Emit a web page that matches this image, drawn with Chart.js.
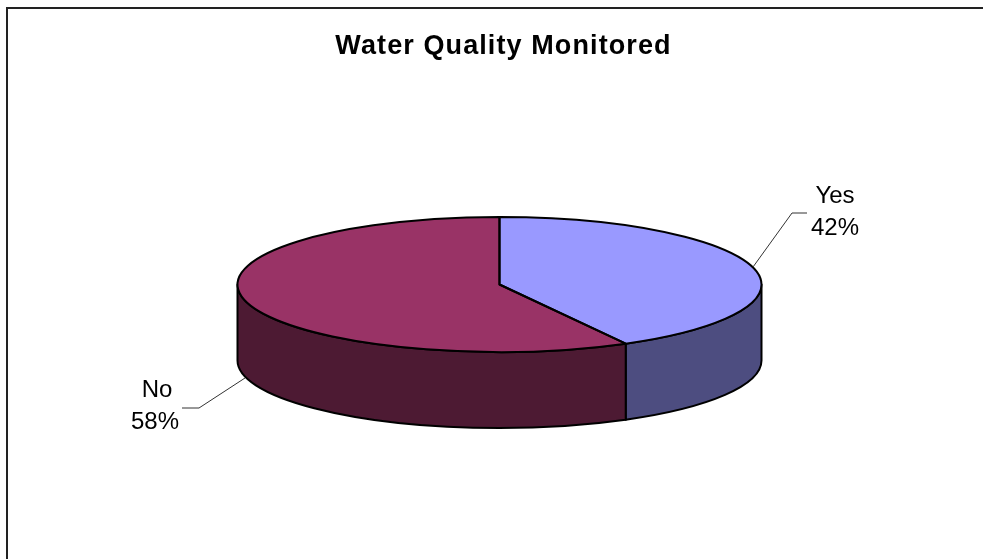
<!DOCTYPE html>
<html><head><meta charset="utf-8">
<style>html,body{margin:0;padding:0;background:#fff}canvas{display:block}</style>
<script src="https://cdn.jsdelivr.net/npm/chart.js@4"></script>
</head><body>
<div style="width:983px;height:559px"><canvas id="c" width="983" height="559"></canvas></div>
<script>
const categories = ['Yes', 'No'];
const values = [42, 58];
const topColors = ['#9999FF', '#993366'];
const sideColors = ['#4D4D80', '#4D1A33'];
const titleText = 'Water Quality Monitored';

const CX = 499.5, CY = 284.5, R = 262, SQUASH = 67.5 / 262, DEPTH = 76;
const LABELS = [
  {lines: ['Yes', '42%'], x: [835, 835], y: [196, 228], leader: [[753, 267], [792, 213], [807, 213]]},
  {lines: ['No', '58%'], x: [157, 155], y: [390, 422], leader: [[245, 378], [199, 408], [182, 408]]}
];

function applySquash(ctx, arc) {
  ctx.translate(CX, CY);
  ctx.scale(1, SQUASH);
  ctx.translate(-arc.x, -arc.y);
}
const pie3d = {
  id: 'pie3d',
  beforeDraw(chart) {
    const c = chart.ctx;
    c.save();
    c.fillStyle = '#fff';
    c.fillRect(0, 0, chart.width, chart.height);
    c.strokeStyle = '#222';
    c.lineWidth = 2;
    c.strokeRect(7, 8, 1100, 700);
    c.restore();
    c.letterSpacing = '1.1px';
  },
  beforeDatasetsDraw(chart) {
    const c = chart.ctx, arcs = chart.getDatasetMeta(0).data;
    c.letterSpacing = '0px';
    arcs.forEach((a, i) => {
      const s = Math.max(a.startAngle, 0), e = Math.min(a.endAngle, Math.PI);
      if (e <= s) return;
      c.beginPath();
      c.ellipse(CX, CY, a.outerRadius, a.outerRadius * SQUASH, 0, s, e);
      c.ellipse(CX, CY + DEPTH, a.outerRadius, a.outerRadius * SQUASH, 0, e, s, true);
      c.closePath();
      c.fillStyle = sideColors[i];
      c.fill();
      c.strokeStyle = '#000';
      c.lineWidth = 2;
      c.lineJoin = 'round';
      c.stroke();
    });
    c.save();
    applySquash(c, arcs[0]);
  },
  afterDatasetsDraw(chart) {
    const c = chart.ctx, arcs = chart.getDatasetMeta(0).data;
    c.restore();
    c.save();
    c.strokeStyle = '#000';
    c.lineWidth = 2;
    c.lineJoin = 'round';
    arcs.forEach(a => {
      c.beginPath();
      c.moveTo(CX, CY);
      c.ellipse(CX, CY, a.outerRadius, a.outerRadius * SQUASH, 0, a.startAngle, a.endAngle);
      c.closePath();
      c.stroke();
    });
    c.strokeStyle = '#333';
    c.lineWidth = 1;
    c.fillStyle = '#000';
    c.font = '24px "Liberation Sans", Arial, sans-serif';
    c.textAlign = 'center';
    c.textBaseline = 'middle';
    LABELS.forEach(l => {
      c.beginPath();
      l.leader.forEach((p, i) => i ? c.lineTo(p[0], p[1]) : c.moveTo(p[0], p[1]));
      c.stroke();
      l.lines.forEach((t, i) => c.fillText(t, l.x[i], l.y[i]));
    });
    c.restore();
  }
};

new Chart(document.getElementById('c'), {
  type: 'pie',
  data: {
    labels: categories,
    datasets: [{data: values, backgroundColor: topColors, borderWidth: 0, clip: false}]
  },
  options: {
    responsive: false,
    animation: false,
    layout: {padding: {left: 24}},
    plugins: {
      legend: {display: false},
      tooltip: {enabled: false},
      title: {
        display: true,
        text: titleText,
        color: '#000',
        font: {family: '"Liberation Sans", Arial, sans-serif', size: 27, weight: 'bold'},
        padding: {top: 30, bottom: 10}
      }
    },
    radius: R
  },
  plugins: [pie3d]
});
</script>
</body></html>
